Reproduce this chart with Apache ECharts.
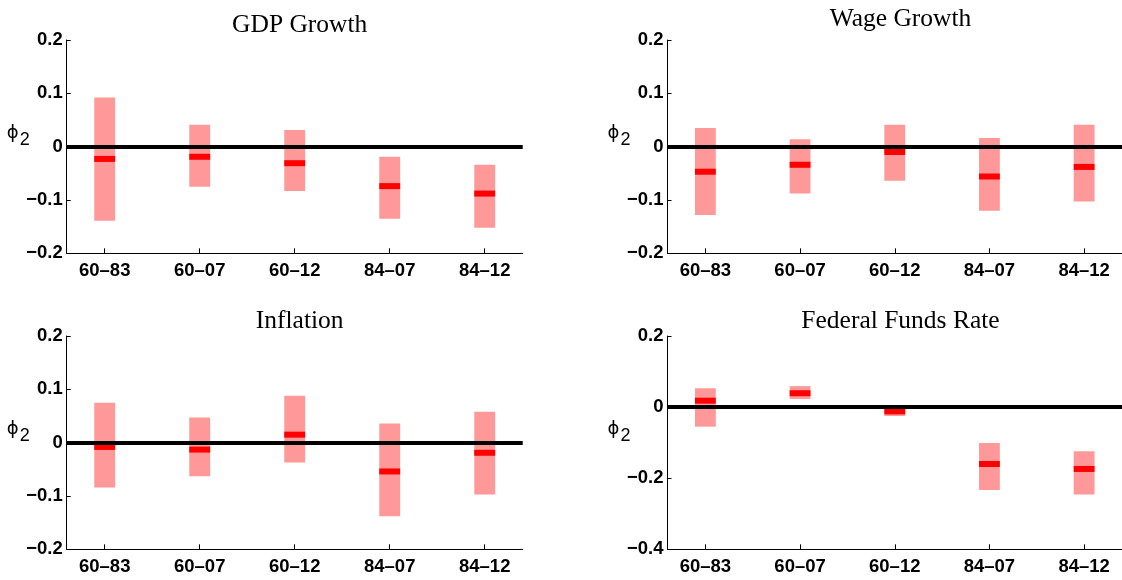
<!DOCTYPE html>
<html><head><meta charset="utf-8">
<script src="https://cdn.jsdelivr.net/npm/echarts@6/dist/echarts.min.js"></script>
<style>html,body{margin:0;padding:0;background:#fff}#c{width:1122px;height:580px}</style>
</head><body><div id="c"></div>
<script>
// ---- data ----
const categories = ['60–83', '60–07', '60–12', '84–07', '84–12'];
const positions = [1, 2, 3, 4, 5];
const titles = ['GDP Growth', 'Wage Growth', 'Inflation', 'Federal Funds Rate'];

const gdpLower  = [-0.139, -0.075, -0.083, -0.135, -0.152];
const gdpUpper  = [ 0.092,  0.041,  0.031, -0.019, -0.034];
const gdpMedian = [-0.023, -0.019, -0.031, -0.074, -0.088];

const wageLower  = [-0.128, -0.088, -0.064, -0.120, -0.103];
const wageUpper  = [ 0.035,  0.014,  0.041,  0.016,  0.041];
const wageMedian = [-0.047, -0.034, -0.010, -0.056, -0.038];

const inflLower  = [-0.084, -0.063, -0.037, -0.138, -0.097];
const inflUpper  = [ 0.075,  0.047,  0.088,  0.036,  0.058];
const inflMedian = [-0.008, -0.013,  0.015, -0.054, -0.019];

const ffrLower  = [-0.055, 0.023, -0.025, -0.233, -0.246];
const ffrUpper  = [ 0.053, 0.059, -0.002, -0.101, -0.124];
const ffrMedian = [ 0.018, 0.039, -0.012, -0.160, -0.174];

const yMins = [-0.2, -0.2, -0.2, -0.4];
const yMaxs = [0.2, 0.2, 0.2, 0.2];
const yIntervals = [0.1, 0.1, 0.1, 0.2];

// ---- layout ----
const panels = [
  {left: 66.7, top: 40, lower: gdpLower, upper: gdpUpper, median: gdpMedian, titleTop: 7},
  {left: 667.5, top: 40, lower: wageLower, upper: wageUpper, median: wageMedian, titleTop: 1},
  {left: 66.7, top: 336, lower: inflLower, upper: inflUpper, median: inflMedian, titleTop: 303},
  {left: 667.5, top: 336, lower: ffrLower, upper: ffrUpper, median: ffrMedian, titleTop: 303}
];
const gridW = 456, gridH = 213.3;
const halfW = 0.11;
const LIGHT = '#FF9999', DARK = '#FF0000';
const tickFont = {fontFamily: 'Liberation Sans, Arial, sans-serif', fontWeight: 'bold', fontSize: 18.5, color: '#000'};

const option = {
  animation: false,
  backgroundColor: '#fff',
  title: panels.map((p, i) => ({
    text: titles[i],
    left: p.left + gridW / 2,
    top: p.titleTop,
    textAlign: 'center',
    textStyle: {fontFamily: 'Liberation Serif, Times New Roman, serif', fontWeight: 'normal', fontSize: 25.5, color: '#000'}
  })),
  grid: panels.map(p => ({left: p.left, top: p.top, width: gridW, height: gridH, containLabel: false})),
  xAxis: panels.map((p, i) => ({
    type: 'value', gridIndex: i, min: 0.6, max: 5.4,
    axisLine: {show: true, onZero: false, lineStyle: {color: '#000', width: 1}},
    axisTick: {show: true, inside: true, length: 5, customValues: positions, lineStyle: {color: '#000'}},
    axisLabel: Object.assign({show: true, margin: 8, customValues: positions,
      formatter: v => categories[positions.indexOf(Math.round(v))]}, tickFont),
    splitLine: {show: false}
  })),
  yAxis: panels.map((p, i) => ({
    type: 'value', gridIndex: i, min: yMins[i], max: yMaxs[i], interval: yIntervals[i],
    axisLine: {show: true, onZero: false, lineStyle: {color: '#000', width: 1}},
    axisTick: {show: true, inside: true, length: 4, lineStyle: {color: '#000'}},
    axisLabel: Object.assign({margin: 4, formatter: v => {
      const r = Math.round(v * 10) / 10;
      return r === 0 ? '0' : String(r).replace('-', '\u2212');
    }}, tickFont),
    splitLine: {show: false},
    name: '{p|\u03D5}{s|2}',
    nameLocation: 'middle',
    nameRotate: 0,
    nameGap: 37,
    nameMoveOverlap: false,
    nameTextStyle: {
      padding: [0, 0, 26, 0],
      rich: {
        p: {fontFamily: 'DejaVu Sans, sans-serif', fontSize: 18, color: '#000'},
        s: {fontFamily: 'Liberation Sans, Arial, sans-serif', fontSize: 18, color: '#000', padding: [12, 0, 0, 1]}
      }
    }
  })),
  series: []
};

panels.forEach((p, i) => {
  option.series.push({
    type: 'custom', xAxisIndex: i, yAxisIndex: i, z: 2, silent: true,
    data: positions.map((x, k) => [x, p.lower[k], p.upper[k]]),
    renderItem: (params, api) => {
      const x = api.value(0);
      const a = api.coord([x - halfW, api.value(2)]);
      const b = api.coord([x + halfW, api.value(1)]);
      return {type: 'rect', shape: {x: a[0], y: a[1], width: b[0] - a[0], height: b[1] - a[1]}, style: {fill: LIGHT}};
    }
  });
  option.series.push({
    type: 'line', xAxisIndex: i, yAxisIndex: i, z: 3, silent: true, data: [],
    markLine: {symbol: 'none', silent: true, animation: false, label: {show: false},
      lineStyle: {color: '#000', width: 4, type: 'solid'}, data: [{yAxis: 0}]}
  });
  option.series.push({
    type: 'custom', xAxisIndex: i, yAxisIndex: i, z: 4, silent: true,
    data: positions.map((x, k) => [x, p.median[k]]),
    renderItem: (params, api) => {
      const x = api.value(0);
      const a = api.coord([x - halfW, api.value(1)]);
      const b = api.coord([x + halfW, api.value(1)]);
      return {type: 'rect', shape: {x: a[0], y: a[1] - 3, width: b[0] - a[0], height: 6}, style: {fill: DARK}};
    }
  });
});

const chart = echarts.init(document.getElementById('c'), null, {renderer: 'canvas'});
chart.setOption(option);
</script>
</body></html>
